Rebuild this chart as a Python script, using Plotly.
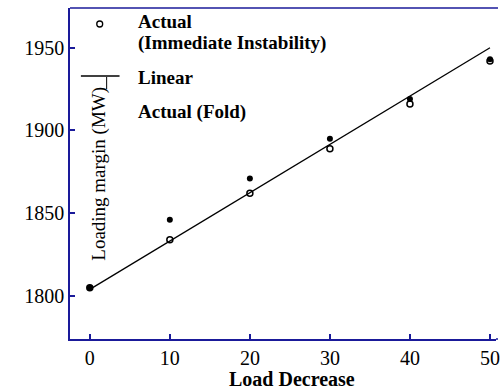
import plotly.graph_objects as go

load_decrease = [0, 10, 20, 30, 40, 50]
actual_immediate = [1805, 1834, 1862, 1889, 1916, 1942]
actual_fold = [1805, 1846, 1871, 1895, 1919, 1943]
linear_x = [0, 50]
linear_y = [1804, 1950]
x_ticks = [0, 10, 20, 30, 40, 50]
y_ticks = [1800, 1850, 1900, 1950]

FONT = "Liberation Serif"
AXC = "#1a1a9a"

fig = go.Figure()
fig.add_trace(go.Scatter(x=linear_x, y=linear_y, mode="lines",
                         line=dict(color="black", width=1.3), showlegend=False))
fig.add_trace(go.Scatter(x=load_decrease, y=actual_immediate, mode="markers",
                         marker=dict(symbol="circle-open", size=6, color="black",
                                     line=dict(width=1.5, color="black")),
                         showlegend=False))
fig.add_trace(go.Scatter(x=load_decrease, y=actual_fold, mode="markers",
                         marker=dict(symbol="circle", size=6, color="black"),
                         showlegend=False))

W, H = 502, 389
L, T, R, B = 70, 8, 2, 50
pw, ph = W - L - R, H - T - B

def px(x):
    return (x - L) / pw

def py(y):
    return 1 - (y - T) / ph

ann_font = dict(family=FONT, size=19, color="black")
annotations = [
    dict(x=px(137), y=py(22), text="<b>Actual</b>", showarrow=False, xref="paper", yref="paper",
         xanchor="left", yanchor="middle", font=ann_font),
    dict(x=px(137), y=py(43), text="<b>(Immediate Instability)</b>", showarrow=False, xref="paper", yref="paper",
         xanchor="left", yanchor="middle", font=ann_font),
    dict(x=px(137), y=py(77), text="<b>Linear</b>", showarrow=False, xref="paper", yref="paper",
         xanchor="left", yanchor="middle", font=ann_font),
    dict(x=px(137), y=py(112), text="<b>Actual (Fold)</b>", showarrow=False, xref="paper", yref="paper",
         xanchor="left", yanchor="middle", font=ann_font),
    dict(x=px(99), y=py(174), text="Loading margin (MW)", textangle=-90, showarrow=False,
         xref="paper", yref="paper", xanchor="center", yanchor="middle",
         font=dict(family=FONT, size=19, color="black")),
    dict(x=px(294), y=py(379), text="<b>Load Decrease</b>", showarrow=False,
         xref="paper", yref="paper", xanchor="center", yanchor="middle",
         font=dict(family=FONT, size=20, color="black")),
]
shapes = [
    dict(type="circle", xref="paper", yref="paper", x0=px(97), x1=px(103), y0=py(21), y1=py(27),
         line=dict(color="black", width=1.3), fillcolor="white"),
    dict(type="line", xref="paper", yref="paper", x0=px(81), x1=px(120), y0=py(76), y1=py(76),
         line=dict(color="black", width=1.3)),
    dict(type="line", xref="paper", yref="paper", x0=px(107), x1=px(107), y0=py(77), y1=py(89),
         line=dict(color="black", width=1)),
    dict(type="line", xref="paper", yref="paper", x0=0, x1=px(502), y0=1, y1=1,
         line=dict(color=AXC, width=1.5)),
    dict(type="line", xref="paper", yref="paper", x0=1, x1=px(502), y0=0, y1=0,
         line=dict(color=AXC, width=1.5)),
]

fig.update_layout(
    width=W, height=H,
    margin=dict(l=L, r=R, t=T, b=B),
    paper_bgcolor="white", plot_bgcolor="white",
    showlegend=False,
    annotations=annotations, shapes=shapes,
    xaxis=dict(range=[-2.475, 51.0 - R / 8.08], tickvals=x_ticks, showgrid=False, zeroline=False,
               showline=True, linecolor=AXC, linewidth=1.5, mirror=False,
               ticks="inside", ticklen=5, tickcolor=AXC, tickwidth=1.5,
               ticklabeloverflow="allow",
               tickfont=dict(family=FONT, size=20, color="black")),
    yaxis=dict(range=[1774, 1974], tickvals=y_ticks, showgrid=False, zeroline=False,
               showline=True, linecolor=AXC, linewidth=1.5,
               ticks="inside", ticklen=5, tickcolor=AXC, tickwidth=1.5,
               tickfont=dict(family=FONT, size=20, color="black")),
)

fig.write_html("out.html", config={"displayModeBar": False})
